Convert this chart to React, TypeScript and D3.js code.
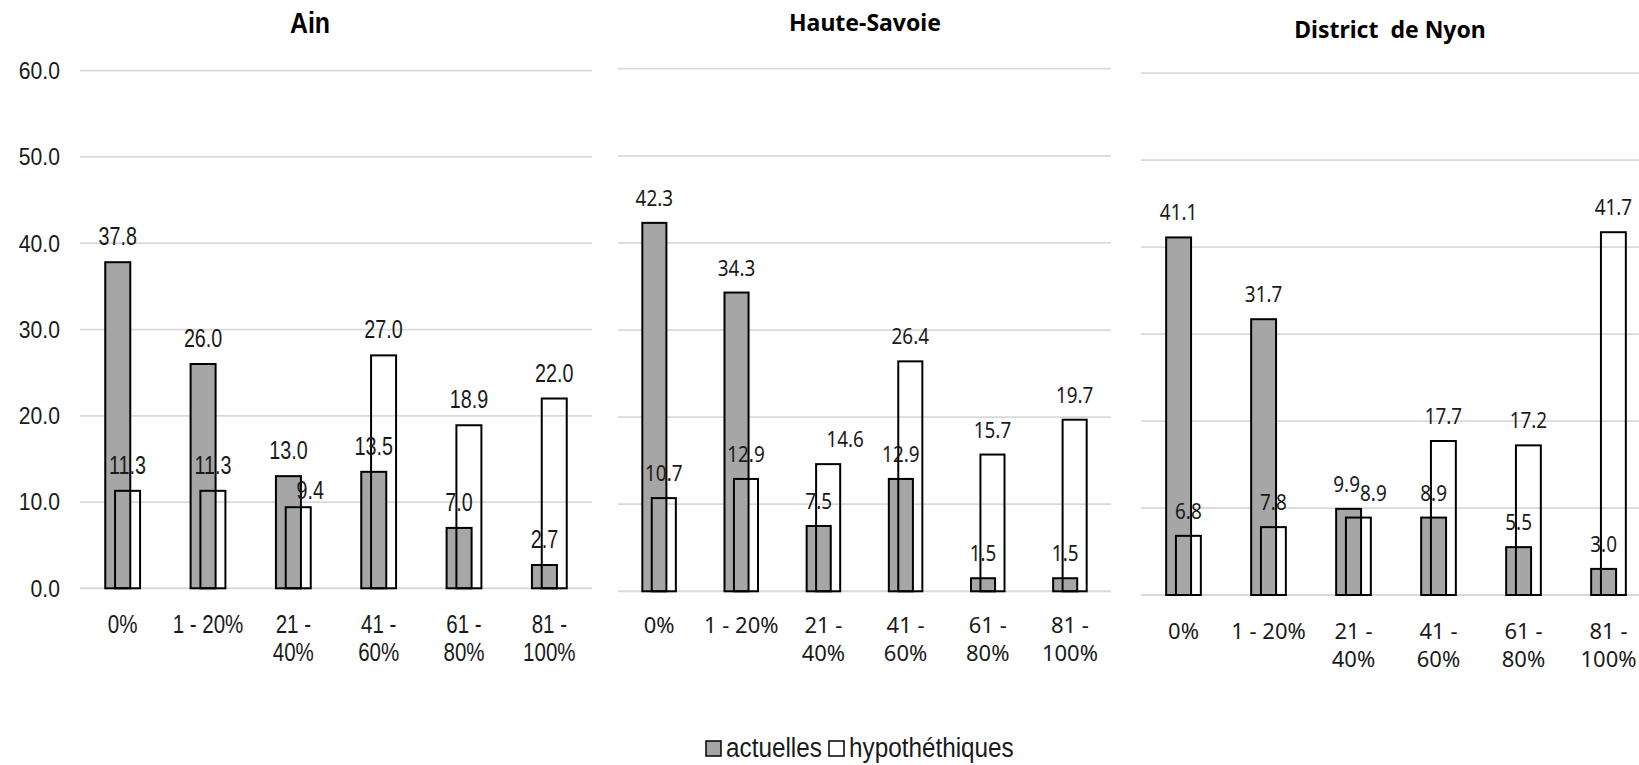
import * as React from "react";
import * as d3 from "d3";

// categories and values
const categories = ["0%", "1 - 20%", "21 - 40%", "41 - 60%", "61 - 80%", "81 - 100%"];
const seriesNames = ["actuelles", "hypothéthiques"];
const yTicks = [0, 10, 20, 30, 40, 50, 60];

const ainActuelles = [37.8, 26.0, 13.0, 13.5, 7.0, 2.7];
const ainHypothetiques = [11.3, 11.3, 9.4, 27.0, 18.9, 22.0];
const savoieActuelles = [42.3, 34.3, 7.5, 12.9, 1.5, 1.5];
const savoieHypothetiques = [10.7, 12.9, 14.6, 26.4, 15.7, 19.7];
const nyonActuelles = [41.1, 31.7, 9.9, 8.9, 5.5, 3.0];
const nyonHypothetiques = [6.8, 7.8, 8.9, 17.7, 17.2, 41.7];

const LIB = "'Liberation Sans', Arial, sans-serif";
const SANS = "'Noto Sans', 'Open Sans', sans-serif";

const GRID = "#d9d9d9";
const GREY = "#a6a6a6";
const INK = "#1a1a1a";

// hand-moved data labels in the original (panel, category, series) -> [dx, dy]
const labelNudges: Record<string, [number, number]> = {
    "0-2-1": [12, 9],
    "1-2-1": [17, 0],
    "2-2-0": [-2, 0],
    "2-2-1": [15, 0]
};

interface TextStyle { size: number, sx: number }

interface PanelLayout {
    title: string,
    actuelles: number[],
    hypothetiques: number[],
    x0: number, x1: number,
    top: number, bottom: number,
    titleX: number, titleY: number,
    font: string,
    titleStyle: TextStyle, valueStyle: TextStyle, catStyle: TextStyle, axisStyle: TextStyle,
    catY: number,
    showAxis: boolean
}

const panels: PanelLayout[] = [
    {
        title: "Ain", actuelles: ainActuelles, hypothetiques: ainHypothetiques,
        x0: 80, x1: 592, top: 70.7, bottom: 588.3,
        titleX: 310, titleY: 33, font: LIB,
        titleStyle: { size: 30, sx: 0.83 }, valueStyle: { size: 26, sx: 0.76 },
        catStyle: { size: 26, sx: 0.79 }, axisStyle: { size: 23, sx: 0.92 },
        catY: 633, showAxis: true
    },
    {
        title: "Haute-Savoie", actuelles: savoieActuelles, hypothetiques: savoieHypothetiques,
        x0: 618, x1: 1111, top: 68.7, bottom: 591.3,
        titleX: 865, titleY: 31, font: SANS,
        titleStyle: { size: 23, sx: 1 }, valueStyle: { size: 21, sx: 0.9 },
        catStyle: { size: 22, sx: 1 }, axisStyle: { size: 21, sx: 1 },
        catY: 633, showAxis: false
    },
    {
        title: "District  de Nyon", actuelles: nyonActuelles, hypothetiques: nyonHypothetiques,
        x0: 1141, x1: 1651, top: 73, bottom: 595,
        titleX: 1390, titleY: 38, font: SANS,
        titleStyle: { size: 23, sx: 1 }, valueStyle: { size: 21, sx: 0.9 },
        catStyle: { size: 22, sx: 1 }, axisStyle: { size: 21, sx: 1 },
        catY: 639, showAxis: false
    }
];

const legendStyle: TextStyle = { size: 27, sx: 0.9 };

function wrapLabel(label: string): string[] {
    if (label.length <= 7) return [label];
    let parts = label.split(" - ");
    return [parts[0] + " -", parts[1]];
}

// text squeezed horizontally around its anchor point
function SText(props: { x: number, y: number, st: TextStyle, font: string, anchor?: string, bold?: boolean, dy?: string, children: any }) {
    let common = {
        dy: props.dy,
        textAnchor: props.anchor || "middle",
        fontFamily: props.font,
        fontSize: props.st.size,
        fontWeight: props.bold ? "bold" : "normal",
        fill: props.bold ? "#000" : INK,
        style: { whiteSpace: "pre" as const }
    };
    if (props.st.sx === 1) {
        return <text x={props.x} y={props.y} {...common}>{props.children}</text>;
    }
    return (
        <text transform={`translate(${props.x},${props.y}) scale(${props.st.sx},1)`} {...common}>{props.children}</text>
    );
}

function Panel({ p, index }: { p: PanelLayout, index: number }) {
    let x = d3.scaleBand().domain(categories).range([p.x0, p.x1]);
    let y = d3.scaleLinear().domain([0, 60]).range([p.bottom, p.top]);
    let band = x.bandwidth();
    let barW = band * 0.293;
    let shift = band * 0.115;

    let series = [p.actuelles, p.hypothetiques];

    return (
        <g>
            <SText x={p.titleX} y={p.titleY} st={p.titleStyle} font={p.font} bold>{p.title}</SText>

            {yTicks.map(t => (
                <line key={t} x1={p.x0} x2={p.x1} y1={y(t)} y2={y(t)} stroke={GRID} strokeWidth={t === 0 ? 2 : 1.75} />
            ))}
            {p.showAxis && yTicks.map(t => (
                <SText key={"l" + t} x={60} y={y(t)} dy="0.36em" anchor="end" st={p.axisStyle} font={p.font}>{t.toFixed(1)}</SText>
            ))}

            {series.map((values, si) => values.map((v, ci) => {
                let cx = (x(categories[ci]) as number) + band / 2;
                let left = cx - (barW + shift) / 2 + si * shift;
                return (
                    <rect key={si + "-" + ci} x={left} y={y(v)} width={barW} height={y(0) - y(v)}
                        fill={si === 0 ? GREY : "none"} stroke="#000" strokeWidth={2} />
                );
            }))}

            {series.map((values, si) => values.map((v, ci) => {
                let cx = (x(categories[ci]) as number) + band / 2;
                let barCx = cx - (barW + shift) / 2 + si * shift + barW / 2;
                let nudge = labelNudges[index + "-" + ci + "-" + si] || [0, 0];
                return (
                    <SText key={"v" + si + "-" + ci} x={barCx + nudge[0]} y={y(v) - 17 + nudge[1]}
                        st={p.valueStyle} font={p.font}>{v.toFixed(1)}</SText>
                );
            }))}

            {categories.map(c => {
                let cx = (x(c) as number) + band / 2;
                return wrapLabel(c).map((line, li) => (
                    <SText key={c + li} x={cx} y={p.catY + li * 28} st={p.catStyle} font={p.font}>{line}</SText>
                ));
            })}
        </g>
    );
}

export default function App() {
    let legendX = [706, 829];
    return (
        <svg width={1639} height={765} style={{ position: "absolute", left: 0, top: 0, background: "#fff" }}>
            <rect width={1639} height={765} fill="#fff" />
            {panels.map((p, i) => <Panel key={i} p={p} index={i} />)}
            <g>
                {seriesNames.map((name, i) => (
                    <g key={name} transform={`translate(${legendX[i]}, 741)`}>
                        <rect x={0} y={0} width={15} height={15} fill={i === 0 ? GREY : "#fff"} stroke="#000" strokeWidth={1.5} />
                        <SText x={20} y={16} anchor="start" st={legendStyle} font={LIB}>{name}</SText>
                    </g>
                ))}
            </g>
        </svg>
    );
}
